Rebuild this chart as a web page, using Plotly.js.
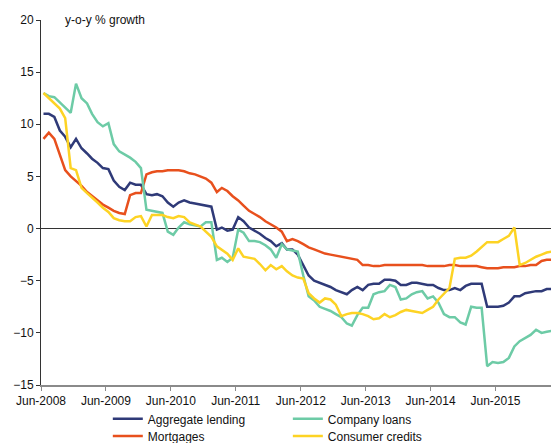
<!DOCTYPE html>
<html>
<head>
<meta charset="utf-8">
<script src="https://cdn.plot.ly/plotly-3.0.1.min.js"></script>
<style>
html,body{margin:0;padding:0;background:#fff;}
#chart{width:551px;height:443px;}
</style>
</head>
<body>
<div id="chart"></div>
<script>
// Monthly observations, Jun-2008 .. Apr-2016 (95 months)
const firstMonth = [2008, 6];
const monthCount = 95;

const aggregateLending = [11.0,11.0,10.7,9.4,8.8,7.8,8.6,7.7,7.2,6.7,6.3,5.8,5.7,4.6,4.0,3.7,4.4,4.2,4.2,3.3,
  3.2,3.3,3.1,2.5,2.1,2.5,2.7,2.5,2.4,2.3,2.2,2.1,-0.1,0.1,-0.2,-0.1,1.1,0.7,0.1,-0.2,
  -0.5,-0.9,-1.2,-1.7,-1.4,-2.0,-2.0,-2.5,-3.6,-4.5,-5.0,-5.2,-5.4,-5.6,-5.9,-6.1,-6.3,-5.9,-5.6,-5.9,
  -5.4,-5.3,-5.3,-4.9,-4.9,-5.0,-5.4,-5.4,-5.2,-5.2,-5.3,-5.4,-5.4,-5.7,-5.9,-5.9,-5.7,-5.9,-5.5,-5.3,
  -5.3,-5.3,-7.5,-7.5,-7.5,-7.4,-7.1,-6.5,-6.5,-6.2,-6.1,-6.0,-6.0,-5.8,-5.8];

const companyLoans = [13.0,12.7,12.6,12.1,11.7,11.1,13.9,12.5,12.0,11.0,10.2,9.8,10.1,8.1,7.4,7.1,6.8,6.4,5.8,1.8,
  1.7,1.6,1.5,-0.3,-0.6,0.1,0.6,0.4,0.3,0.2,0.6,0.6,-3.0,-2.8,-3.2,-2.8,-0.1,-0.4,-1.2,-1.2,
  -1.3,-1.6,-2.0,-2.8,-1.5,-2.0,-2.1,-2.2,-4.5,-6.5,-6.9,-7.5,-7.7,-7.9,-8.2,-8.5,-9.1,-9.3,-8.3,-7.6,
  -7.6,-6.3,-6.1,-6.0,-5.4,-5.6,-6.8,-6.7,-6.3,-6.1,-6.0,-6.7,-6.5,-7.1,-8.2,-8.5,-8.5,-9.0,-9.2,-7.5,
  -7.6,-7.6,-13.2,-12.8,-12.9,-12.8,-12.4,-11.3,-10.8,-10.5,-10.2,-9.7,-10.0,-9.9,-9.8];

const mortgages = [8.6,9.2,8.6,7.0,5.6,5.0,4.6,4.1,3.5,3.1,2.7,2.3,2.0,1.7,1.5,1.4,3.2,3.4,3.4,5.2,
  5.4,5.5,5.5,5.6,5.6,5.6,5.5,5.3,5.2,5.0,4.8,4.4,3.5,3.9,3.6,3.1,2.7,2.2,1.7,1.4,
  1.1,0.7,0.4,0.1,-0.3,-1.2,-1.0,-1.2,-1.5,-1.8,-2.0,-2.2,-2.4,-2.5,-2.6,-2.7,-2.8,-2.9,-3.0,-3.5,
  -3.5,-3.6,-3.6,-3.5,-3.5,-3.5,-3.5,-3.5,-3.5,-3.5,-3.5,-3.6,-3.6,-3.6,-3.6,-3.5,-3.5,-3.6,-3.6,-3.6,
  -3.6,-3.7,-3.8,-3.8,-3.8,-3.7,-3.7,-3.7,-3.6,-3.6,-3.5,-3.5,-3.1,-3.0,-3.0];

const consumerCredits = [13.0,12.5,12.0,11.5,10.6,5.8,5.6,3.9,3.4,3.0,2.5,2.0,1.6,1.0,0.8,0.7,0.7,1.1,1.2,0.2,
  1.3,1.3,1.3,1.1,1.0,1.2,1.1,0.6,0.4,0.2,-0.3,-0.8,-1.7,-2.0,-2.4,-3.0,-1.9,-2.7,-2.8,-2.9,
  -3.4,-4.0,-3.5,-3.9,-3.6,-4.1,-4.5,-4.7,-4.8,-6.2,-6.7,-7.1,-6.7,-6.8,-7.3,-8.4,-8.2,-8.1,-8.1,-8.2,
  -8.4,-8.7,-8.6,-8.2,-8.5,-8.3,-8.0,-7.8,-7.9,-8.0,-8.1,-7.8,-7.5,-6.8,-6.2,-5.7,-2.9,-2.8,-2.8,-2.6,
  -2.2,-1.8,-1.3,-1.3,-1.3,-1.0,-0.7,0.1,-3.5,-3.3,-3.0,-2.7,-2.5,-2.3,-2.2];

const seriesNames = ["Aggregate lending", "Mortgages", "Company loans", "Consumer credits"];
const seriesColors = ["#2f3a78", "#e8501d", "#6dcba6", "#fdd324"];

const xTickVals = ["2008-06-01","2009-06-01","2010-06-01","2011-06-01","2012-06-01","2013-06-01","2014-06-01","2015-06-01"];
const xTickText = ["Jun-2008","Jun-2009","Jun-2010","Jun-2011","Jun-2012","Jun-2013","Jun-2014","Jun-2015"];
const yTickVals = [-15,-10,-5,0,5,10,15,20];
const yTitle = "y-o-y % growth";

// month dates (mid-month)
const months = [];
for (let i = 0; i < monthCount; i++) {
  const y = firstMonth[0] + Math.floor((firstMonth[1] - 1 + i) / 12);
  const m = ((firstMonth[1] - 1 + i) % 12) + 1;
  months.push(y + "-" + String(m).padStart(2, "0") + "-15");
}

const values = [aggregateLending, mortgages, companyLoans, consumerCredits];
const legendIds = ["legend", "legend3", "legend2", "legend4"];
const traces = values.map((v, i) => ({
  type: "scatter", mode: "lines", x: months, y: v, name: seriesNames[i],
  legend: legendIds[i],
  line: {color: seriesColors[i], width: 2.5}
}));

const font = {family: "Liberation Sans, Arial, sans-serif", size: 12, color: "#111"};
function legendAt(x, y) {
  return {
    orientation: "v", x: x, xanchor: "left", y: y, yanchor: "top",
    itemwidth: 30, font: {family: font.family, size: 12, color: "#111"},
    bgcolor: "rgba(0,0,0,0)", borderwidth: 0
  };
}

const layout = {
  width: 551, height: 443,
  margin: {l: 41, r: 0, t: 20, b: 58, autoexpand: false},
  paper_bgcolor: "#fff", plot_bgcolor: "#fff",
  font: font,
  showlegend: true,
  legend: legendAt(0.131, -0.053),
  legend2: legendAt(0.484, -0.053),
  legend3: legendAt(0.131, -0.100),
  legend4: legendAt(0.484, -0.100),
  xaxis: {
    type: "date", range: ["2008-06-01", "2016-04-08"],
    tickvals: xTickVals, ticktext: xTickText,
    showgrid: false, zeroline: false,
    showline: true, linecolor: "#8a8a8a", linewidth: 1.5,
    ticks: "outside", ticklen: 4, tickcolor: "#8a8a8a", tickwidth: 1,
    tickfont: {family: font.family, size: 12, color: "#111"}
  },
  yaxis: {
    range: [-15, 20], tickvals: yTickVals,
    showgrid: false, zeroline: true, zerolinecolor: "#333", zerolinewidth: 1.2,
    showline: true, linecolor: "#333", linewidth: 1,
    ticks: "outside", ticklen: 4, tickcolor: "#333",
    tickfont: {family: font.family, size: 12, color: "#111"}
  },
  annotations: [{
    text: yTitle, xref: "paper", yref: "paper", x: 0.043, y: 1.0,
    xanchor: "left", yanchor: "middle", showarrow: false,
    font: {family: font.family, size: 12, color: "#111"}
  }]
};

Plotly.newPlot("chart", traces, layout, {displayModeBar: false, staticPlot: true});
</script>
</body>
</html>
